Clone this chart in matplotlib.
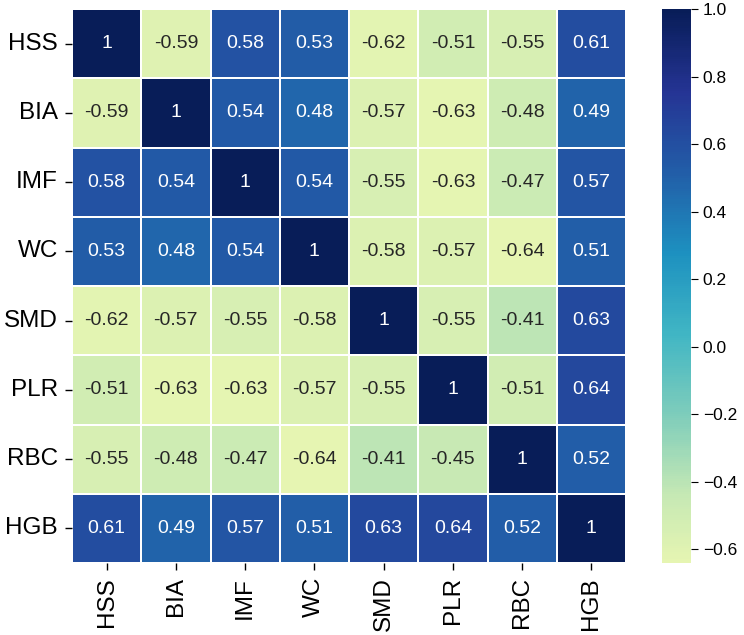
import numpy as np
import matplotlib
matplotlib.use("Agg")
import matplotlib.pyplot as plt
from matplotlib.colors import LinearSegmentedColormap
import seaborn as sns

labels = ["HSS", "BIA", "IMF", "WC", "SMD", "PLR", "RBC", "HGB"]
row_HSS = [1, -0.59, 0.58, 0.53, -0.62, -0.51, -0.55, 0.61]
row_BIA = [-0.59, 1, 0.54, 0.48, -0.57, -0.63, -0.48, 0.49]
row_IMF = [0.58, 0.54, 1, 0.54, -0.55, -0.63, -0.47, 0.57]
row_WC = [0.53, 0.48, 0.54, 1, -0.58, -0.57, -0.64, 0.51]
row_SMD = [-0.62, -0.57, -0.55, -0.58, 1, -0.55, -0.41, 0.63]
row_PLR = [-0.51, -0.63, -0.63, -0.57, -0.55, 1, -0.51, 0.64]
row_RBC = [-0.55, -0.48, -0.47, -0.64, -0.41, -0.45, 1, 0.52]
row_HGB = [0.61, 0.49, 0.57, 0.51, 0.63, 0.64, 0.52, 1]
cbar_ticks = [-0.6, -0.4, -0.2, 0.0, 0.2, 0.4, 0.6, 0.8, 1.0]

data = np.array([row_HSS, row_BIA, row_IMF, row_WC, row_SMD, row_PLR, row_RBC, row_HGB])

plt.rcParams['font.family'] = ['Liberation Sans', 'DejaVu Sans']

base = plt.get_cmap("YlGnBu")
cmap = LinearSegmentedColormap.from_list("ylgnbu_trunc", base(np.linspace(0.15, 1.0, 256)))

fig = plt.figure(figsize=(7.44, 6.35), dpi=100)
W, H = 744, 635
top, bottom = 9, 563
ax = fig.add_axes([72 / W, 1 - bottom / H, (626 - 72) / W, (bottom - top) / H])
cax = fig.add_axes([662 / W, 1 - bottom / H, (691 - 662) / W, (bottom - top) / H])

sns.heatmap(data, ax=ax, cbar_ax=cax, cmap=cmap, annot=True, fmt=".2g",
            annot_kws={"fontsize": 14}, linewidths=1.2, linecolor="white",
            xticklabels=labels, yticklabels=labels)

ax.tick_params(axis='both', labelsize=17.5, length=5, width=1, pad=5)
ax.set_xticklabels(labels, rotation=90)
ax.set_yticklabels(labels, rotation=0)
cax.set_yticks(cbar_ticks)
cax.tick_params(labelsize=12.5, length=5)

fig.savefig("out.png", dpi=100)
